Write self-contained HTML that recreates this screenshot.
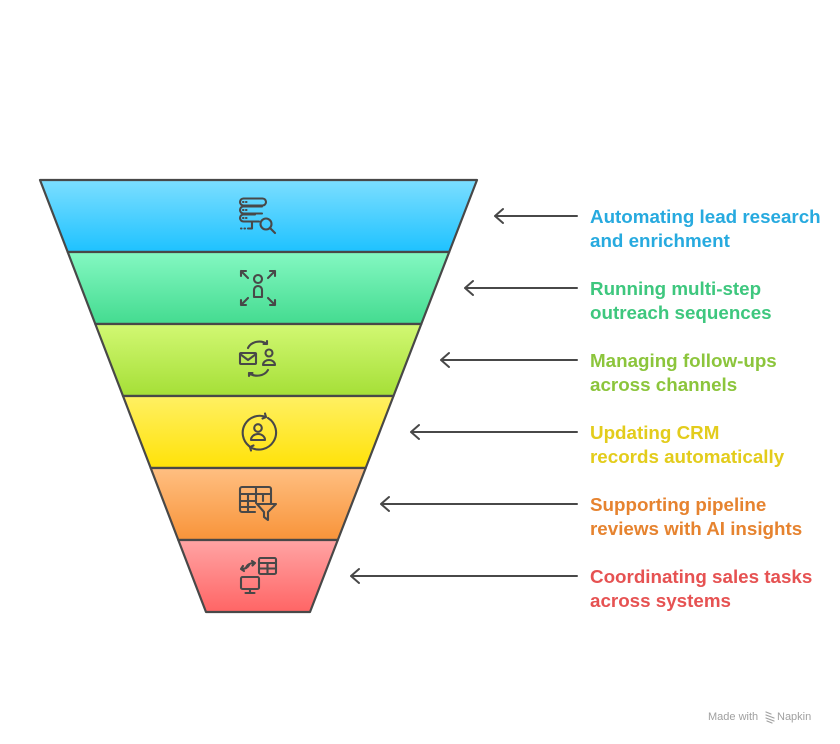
<!DOCTYPE html>
<html><head><meta charset="utf-8"><style>
html,body{margin:0;padding:0;background:#fff;}
svg{display:block;}
text{font-family:"Liberation Sans",Arial,sans-serif;font-weight:bold;font-size:18.8px;}
</style></head><body>
<svg width="840" height="744" viewBox="0 0 840 744" xmlns="http://www.w3.org/2000/svg">
<defs>
<linearGradient id="g1" x1="0" y1="0" x2="0" y2="1"><stop offset="0" stop-color="#7cdeff"/><stop offset="1" stop-color="#1ec2ff"/></linearGradient>
<linearGradient id="g2" x1="0" y1="0" x2="0" y2="1"><stop offset="0" stop-color="#84f8c2"/><stop offset="1" stop-color="#44db90"/></linearGradient>
<linearGradient id="g3" x1="0" y1="0" x2="0" y2="1"><stop offset="0" stop-color="#d2f873"/><stop offset="1" stop-color="#a5df37"/></linearGradient>
<linearGradient id="g4" x1="0" y1="0" x2="0" y2="1"><stop offset="0" stop-color="#fff063"/><stop offset="1" stop-color="#ffe208"/></linearGradient>
<linearGradient id="g5" x1="0" y1="0" x2="0" y2="1"><stop offset="0" stop-color="#ffbf82"/><stop offset="1" stop-color="#f8943a"/></linearGradient>
<linearGradient id="g6" x1="0" y1="0" x2="0" y2="1"><stop offset="0" stop-color="#ffa4a4"/><stop offset="1" stop-color="#ff6565"/></linearGradient>
</defs>
<g stroke="#484848" stroke-width="2.2" stroke-linejoin="round">
<polygon points="40,180 477,180 449.2,252 67.7,252" fill="url(#g1)"/>
<polygon points="67.7,252 449.2,252 421.3,324 95.3,324" fill="url(#g2)"/>
<polygon points="95.3,324 421.3,324 393.5,396 123,396" fill="url(#g3)"/>
<polygon points="123,396 393.5,396 365.7,468 150.7,468" fill="url(#g4)"/>
<polygon points="150.7,468 365.7,468 337.8,540 178.3,540" fill="url(#g5)"/>
<polygon points="178.3,540 337.8,540 310,612 206,612" fill="url(#g6)"/>
</g>
<!-- icons -->
<g fill="none" stroke="#484848" stroke-width="2.1" stroke-linecap="round" stroke-linejoin="round">
<!-- icon1 -->
<rect x="240" y="198.5" width="26" height="7" rx="3.5"/>
<path d="M262 213.5 H243.5 a3.5 3.5 0 0 1 0 -7 H262"/>
<path d="M259 221.5 H243.5 a3.5 3.5 0 0 1 0 -7 H255"/>
<path d="M248 228.5 H252 V222"/>
<circle cx="266" cy="224" r="5.5"/>
<path d="M270 228 L275 233"/>
<path d="M243 202 h0.5 M246 202 h0.5 M243 210 h0.5 M246 210 h0.5 M243 218 h0.5 M246 218 h0.5 M241 228.5 h0.5 M244.5 228.5 h0.5"/>
<!-- icon2 -->
<circle cx="258" cy="279" r="4"/>
<path d="M254 297 V290 a4 4 0 0 1 8 0 V297 Z"/>
<path d="M241 271 L248 278 M241 271 h5 M241 271 v5"/>
<path d="M275 271 L268 278 M275 271 h-5 M275 271 v5"/>
<path d="M241 305 L248 298 M241 305 h5 M241 305 v-5"/>
<path d="M275 305 L268 298 M275 305 h-5 M275 305 v-5"/>
<!-- icon3 -->
<rect x="240" y="353" width="16" height="11" rx="1"/>
<path d="M240 354 L248 360 L256 354"/>
<circle cx="269" cy="353" r="3.5"/>
<path d="M263 365 a6 5 0 0 1 12 0 Z"/>
<path d="M248 348 a12 10 0 0 1 19 -4 M267 344 v-3 M267 344 h-3.5"/>
<path d="M268 370 a12 10 0 0 1 -19 3 M249 373 v3 M249 373 h3.5"/>
<!-- icon4 -->
<path d="M249 446 A17 17 0 0 1 266 417"/>
<path d="M268 418 A17 17 0 0 1 250 447"/>
<path d="M266 417 l-1 -3.5 M266 417 l-3.5 1.5"/>
<path d="M250 447 l1 3.5 M250 447 l3.5 -1.5"/>
<circle cx="258" cy="428" r="3.8"/>
<path d="M251 440 a7 6 0 0 1 14 0 Z"/>
<!-- icon5 -->
<path d="M255 512 H242 a2 2 0 0 1 -2 -2 V489 a2 2 0 0 1 2 -2 H269 a2 2 0 0 1 2 2 V503"/>
<path d="M240 494 H271 M240 501 H256 M240 507 H255 M248 494 V512 M256 487 V503 M263 494 V501"/>
<path d="M257 504 H276 L268 512 V520 L264 517 V512 Z"/>
<!-- icon6 -->
<rect x="259" y="558" width="17" height="16" rx="1.5"/>
<path d="M259 563 H276 M259 568.5 H276 M267.5 563 V574"/>
<path d="M246 568 a8 6 0 0 1 9 -5 M255 563 l-3 -2 M255 563 l-2.5 2.5"/>
<path d="M249 565 a8 6 0 0 1 -8 4 M241 569 l3 2 M241 569 l2 -3"/>
<rect x="241" y="577" width="18" height="12" rx="1.5"/>
<path d="M250 589 V593 M245.5 593 H254.5"/>
</g>
<!-- arrows -->
<g fill="none" stroke="#484848" stroke-width="2" stroke-linecap="round" stroke-linejoin="round">
<path d="M577 216 H495 M503 209 L495 216 L503 223"/>
<path d="M577 288 H465 M473 281 L465 288 L473 295"/>
<path d="M577 360 H441 M449 353 L441 360 L449 367"/>
<path d="M577 432 H411 M419 425 L411 432 L419 439"/>
<path d="M577 504 H381 M389 497 L381 504 L389 511"/>
<path d="M577 576 H351 M359 569 L351 576 L359 583"/>
</g>
<!-- labels -->
<text x="590" y="223" fill="#27aadf">Automating lead research</text>
<text x="590" y="247" fill="#27aadf">and enrichment</text>
<text x="590" y="295" fill="#3ec77e">Running multi-step</text>
<text x="590" y="319" fill="#3ec77e">outreach sequences</text>
<text x="590" y="367" fill="#8cc53c">Managing follow-ups</text>
<text x="590" y="391" fill="#8cc53c">across channels</text>
<text x="590" y="439" fill="#e3cc1c">Updating CRM</text>
<text x="590" y="463" fill="#e3cc1c">records automatically</text>
<text x="590" y="511" fill="#e6832f">Supporting pipeline</text>
<text x="590" y="535" fill="#e6832f">reviews with AI insights</text>
<text x="590" y="583" fill="#e65252">Coordinating sales tasks</text>
<text x="590" y="607" fill="#e65252">across systems</text>
<!-- watermark -->
<text x="708" y="720" fill="#a0a0a0" style="font-weight:normal;font-size:11px">Made with</text>
<g stroke="#a0a0a0" stroke-width="1.2" fill="none" stroke-linecap="round">
<path d="M766 712 l5 2 M766 715 l8 3 M766 718 l8 3 M767 721 l5 2"/>
</g>
<text x="777" y="720" fill="#a0a0a0" style="font-weight:normal;font-size:11px">Napkin</text>
</svg>
</body></html>
